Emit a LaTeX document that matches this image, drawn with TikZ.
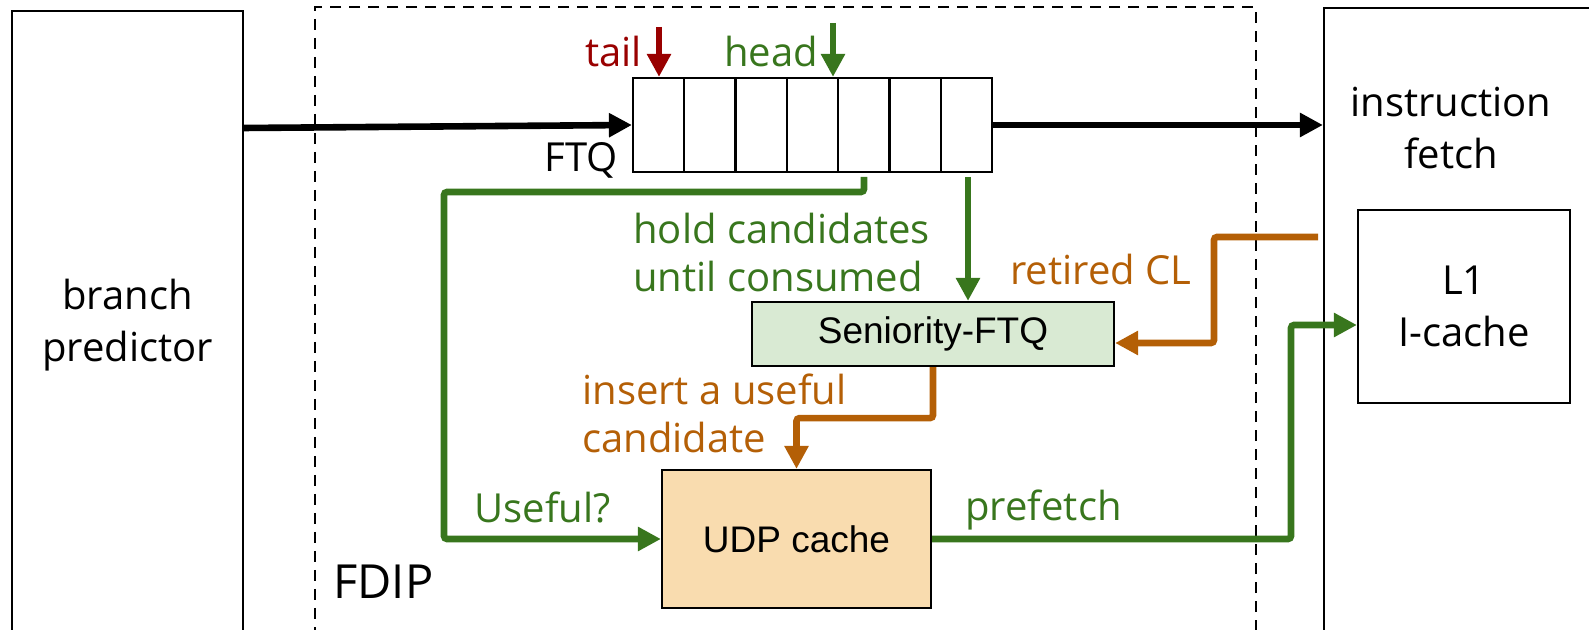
\documentclass[tikz,border=0pt]{standalone}
\usepackage{fontspec}
\setmainfont{Liberation Sans}
\newfontfamily\lblfont{Open Sans}
\usetikzlibrary{arrows.meta}
\definecolor{grn}{HTML}{38761D}
\definecolor{org}{HTML}{B45F06}
\definecolor{tailred}{HTML}{990000}
\definecolor{sfill}{HTML}{D9EAD3}
\definecolor{ufill}{HTML}{F9DCAF}
\begin{document}
\begin{tikzpicture}[x=0.5pt, y=-0.5pt,
    box/.style={draw, line width=1.1pt, inner sep=0pt},
    lbl/.style={inner sep=0pt, font=\lblfont\fontsize{20}{24}\selectfont},
    boxtxt/.style={font=\lblfont\fontsize{20}{26}\selectfont, align=center},
    flow/.style={line width=3.3pt, rounded corners=1.5pt, -{Triangle[length=11.5pt,width=11.5pt]}}]
			\useasboundingbox (0,0) rectangle (1589,630);
			\clip (0,0) rectangle (1589,630);

			\node[box, minimum width=115.5pt, minimum height=314pt, boxtxt] (bp) at (127.5,325) {branch\\predictor};
			\node[box, dashed, dash pattern=on 5.5pt off 4pt, minimum width=470.5pt, minimum height=316.5pt] (fdip) at (785.5,323.5) {};
			\node[box, minimum width=148pt, minimum height=316pt] (fetch) at (1472,324) {};
			\node[boxtxt, inner sep=0pt, anchor=base] (fetcht) at (1451,169) {instruction\\fetch};
			\node[box, minimum width=106pt, minimum height=96.5pt, boxtxt] (l1) at (1464,306.5) {L1\\I-cache};

			\node[box, minimum width=179.5pt, minimum height=47pt] (ftq) at (812.5,125) {};
			\foreach \i in {1,...,6} {
				\draw[line width=1.1pt] ({633+51.29*\i},78) -- ({633+51.29*\i},172);
			}
			\node[box, fill=sfill, minimum width=181pt, minimum height=32pt, font=\fontsize{18.5}{22}\selectfont] (sftq) at (933,334) {Seniority-FTQ};
			\node[box, fill=ufill, minimum width=134.5pt, minimum height=69pt, font=\fontsize{18.5}{22}\selectfont] (udp) at (796.5,539) {UDP cache};

			\node[lbl, anchor=base east] (ftqt) at (618,172) {FTQ};
			\node[lbl, anchor=base east, text=tailred] (tailt) at (642,67) {tail};
			\node[lbl, anchor=base west, text=grn] (headt) at (724,67) {head};
			\node[lbl, anchor=base west, text=grn, align=left] (holdt) at (633,292) {hold candidates\\until consumed};
			\node[lbl, anchor=base west, text=org] (rett) at (1010,285) {retired CL};
			\node[lbl, anchor=base west, text=org, align=left] (inst) at (582,452) {insert a useful\\candidate};
			\node[lbl, anchor=base west, text=grn] (uset) at (474,522) {Useful?};
			\node[lbl, anchor=base west, text=grn] (pft) at (965,520) {prefetch};
			\node[lbl, anchor=base west, font=\lblfont\fontsize{23.5}{28}\selectfont] (fdipt) at (333,598) {FDIP};

			\coordinate (bpo) at (243,128);
			\coordinate (tl) at (659,27);
			\coordinate (hd) at (833,23);
			\coordinate (hs) at (864,177);
			\coordinate (hq) at (968,177);
			\coordinate (rc) at (1318,237);
			\coordinate (rd) at (1214,343);
			\coordinate (pf) at (1291,325);

			\draw[flow] (bpo) -- (ftq.west);
			\draw[flow] (ftq.east) -- (fetch.west |- ftq.east);
			\draw[flow, tailred] (tl) -- (tl |- ftq.north);
			\draw[flow, grn] (hd) -- (hd |- ftq.north);
			\draw[flow, grn] (hs) |- (444,192) |- (udp.west);
			\draw[flow, grn] (hq) -- (hq |- sftq.north);
			\draw[flow, org] (rc) -| (rd) -- (rd -| sftq.east);
			\draw[flow, org] (sftq.south) -- ++(0,51) -| (udp.north);
			\draw[flow, grn] (udp.east) -| (pf) -- (pf -| l1.west);
		\end{tikzpicture}
\end{document}
